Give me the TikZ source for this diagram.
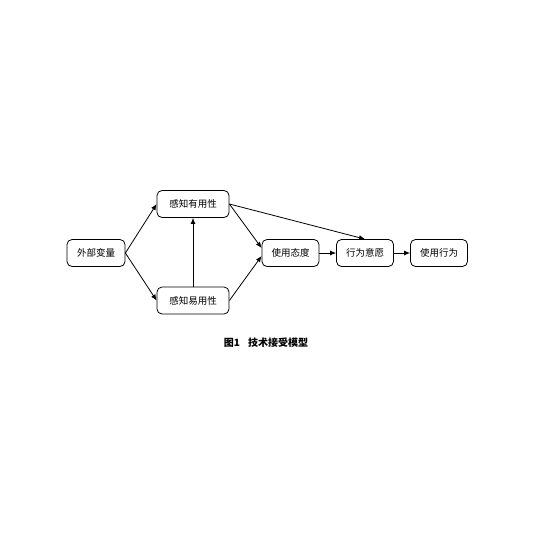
\documentclass[tikz,border=0pt]{standalone}
\usepackage{fontspec}
\usetikzlibrary{arrows.meta}
\newfontfamily\cjk{Noto Sans CJK SC}
\begin{document}
\begin{tikzpicture}[x=1pt,y=-1pt,>={Latex[length=6pt,width=5pt]}]

        \useasboundingbox (0,0) rectangle (536,536);

        \begin{scope}[every node/.style={draw, rounded corners=5pt, line width=.8pt,
            inner sep=0pt, minimum height=27pt, font=\cjk\fontsize{9.5}{11}\selectfont}]
          \node[minimum width=58pt] (1) at (96,253)    {外部变量};
          \node[minimum width=72pt] (2) at (193,204)   {感知有用性};
          \node[minimum width=72pt] (3) at (193,300.5) {感知易用性};
          \node[minimum width=57pt] (4) at (290.5,253) {使用态度};
          \node[minimum width=57pt] (5) at (365,253)   {行为意愿};
          \node[minimum width=57pt] (6) at (439,253)   {使用行为};
        \end{scope}

        \node[font=\cjk\bfseries\fontsize{10}{12}\selectfont] (cap) at (266,343) {图1\hspace{8pt}技术接受模型};

        \begin{scope}[every edge/.style={draw, ->, line width=.8pt}]
          \path (1.east) edge (2.west);
          \path (1.east) edge (3.west);
          \path (3.north) edge (2.south);
          \path (2.east) edge ([yshift=5pt]4.west);
          \path (3.east) edge ([yshift=-3pt]4.west);
          \path (2.east) edge (5.north);
          \path (4) edge (5);
          \path (5) edge (6);
        \end{scope}

      \end{tikzpicture}
\end{document}
